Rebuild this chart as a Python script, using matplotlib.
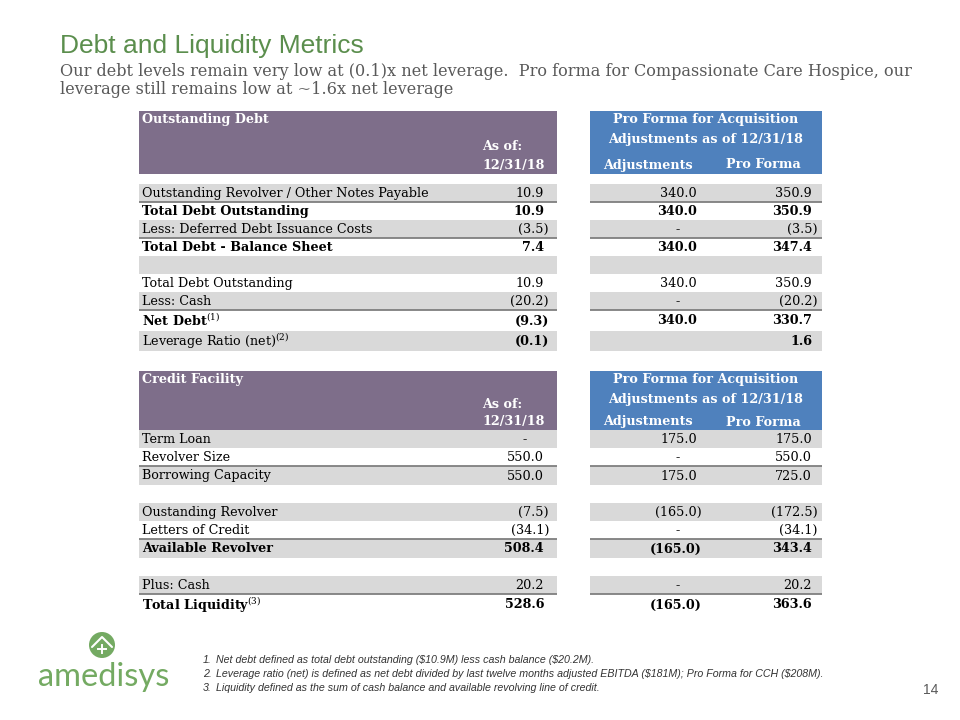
import matplotlib
matplotlib.use("Agg")
import matplotlib.pyplot as plt
from matplotlib.patches import Rectangle, Circle

plt.rcParams["mathtext.fontset"] = "dejavuserif"

# ---- data -----------------------------------------------------------------
debt_labels = [
    "Outstanding Revolver / Other Notes Payable",
    "Total Debt Outstanding",
    "Less: Deferred Debt Issuance Costs",
    "Total Debt - Balance Sheet",
    "",
    "Total Debt Outstanding",
    "Less: Cash",
    "Net Debt$^{(1)}$",
    "Leverage Ratio (net)$^{(2)}$",
]
debt_asof = [10.9, 10.9, -3.5, 7.4, None, 10.9, -20.2, -9.3, -0.1]
debt_adj = [340.0, 340.0, 0.0, 340.0, None, 340.0, 0.0, 340.0, None]
debt_pro = [350.9, 350.9, -3.5, 347.4, None, 350.9, -20.2, 330.7, 1.6]
debt_bold_labels = {1, 3, 7}
debt_bold_values = {1, 3, 7, 8}

credit_labels = [
    "Term Loan",
    "Revolver Size",
    "Borrowing Capacity",
    "",
    "Oustanding Revolver",
    "Letters of Credit",
    "Available Revolver",
    "",
    "Plus: Cash",
    "Total Liquidity$^{(3)}$",
]
credit_asof = [0.0, 550.0, 550.0, None, -7.5, -34.1, 508.4, None, 20.2, 528.6]
credit_adj = [175.0, 0.0, 175.0, None, -165.0, 0.0, -165.0, None, 0.0, -165.0]
credit_pro = [175.0, 550.0, 725.0, None, -172.5, -34.1, 343.4, None, 20.2, 363.6]
credit_bold = {6, 9}

footnotes = [
    "Net debt defined as total debt outstanding ($10.9M) less cash balance ($20.2M).",
    "Leverage ratio (net) is defined as net debt divided by last twelve months adjusted EBITDA ($181M); Pro Forma for CCH ($208M).",
    "Liquidity defined as the sum of cash balance and available revolving line of credit.",
]

# ---- style ----------------------------------------------------------------
PURPLE = "#7E6E8A"
BLUE = "#4F81BD"
GRAY = "#D9D9D9"
LINE = "#7F7F7F"
GREEN = "#5B8E4D"
LOGO = "#74AA62"
SERIF = "DejaVu Serif"
FS = 9.2

fig = plt.figure(figsize=(9.6, 7.2), dpi=100)
ax = fig.add_axes([0, 0, 1, 1])
ax.set_xlim(0, 960)
ax.set_ylim(720, 0)
ax.axis("off")

# title block
ax.text(60, 46, "Debt and Liquidity Metrics", fontsize=19, color=GREEN,
        family="Liberation Sans", va="center")
ax.text(60, 71, "Our debt levels remain very low at (0.1)x net leverage.  Pro forma for "
        "Compassionate Care Hospice, our", fontsize=11.6, color="#595959",
        family=SERIF, va="center")
ax.text(60, 90, "leverage still remains low at ~1.6x net leverage", fontsize=11.6,
        color="#595959", family=SERIF, va="center")

L0, L1 = 139, 557
R0, R1 = 590, 822
COLS = [  # (digit right edge, paren right edge, dash centre)
    (544, 549, 525),
    (697, 702, 678),
    (812, 818, 800),
]


def put_value(v, col, y, bold):
    if v is None:
        return
    right, paren, dash = COLS[col]
    w = "bold" if bold else "normal"
    if v == 0:
        ax.text(dash, y, "-", ha="center", va="center", fontsize=FS,
                family=SERIF, fontweight=w)
    elif v < 0:
        ax.text(paren, y, f"({-v:.1f})", ha="right", va="center", fontsize=FS,
                family=SERIF, fontweight=w)
    else:
        ax.text(right, y, f"{v:.1f}", ha="right", va="center", fontsize=FS,
                family=SERIF, fontweight=w)


def header(top, bottom, title, text_ys):
    ax.add_patch(Rectangle((L0, top), L1 - L0, bottom - top, color=PURPLE, lw=0))
    ax.add_patch(Rectangle((R0, top), R1 - R0, bottom - top, color=BLUE, lw=0))
    kw = dict(color="white", fontsize=FS, family=SERIF, fontweight="bold", va="center")
    ax.text(142, text_ys[0], title, **kw)
    ax.text(482, text_ys[3], "As of:", **kw)
    ax.text(482, text_ys[2], "12/31/18", **kw)
    ax.text(706, text_ys[0], "Pro Forma for Acquisition", ha="center", **kw)
    ax.text(706, text_ys[1], "Adjustments as of 12/31/18", ha="center", **kw)
    ax.text(648, text_ys[2], "Adjustments", ha="center", **kw)
    ax.text(763, text_ys[2], "Pro Forma", ha="center", **kw)


def body(start, heights, labels, asof, adj, pro, gray_rows, lines_after,
         bold_labels, bold_values):
    y = start
    for i, h in enumerate(heights):
        if i in gray_rows:
            ax.add_patch(Rectangle((L0, y), L1 - L0, h, color=GRAY, lw=0))
            ax.add_patch(Rectangle((R0, y), R1 - R0, h, color=GRAY, lw=0))
        yc = y + h / 2 + 0.5
        if labels[i]:
            ax.text(142, yc, labels[i], va="center", fontsize=FS, family=SERIF,
                    fontweight="bold" if i in bold_labels else "normal")
        b = i in bold_values
        put_value(asof[i], 0, yc, b)
        put_value(adj[i], 1, yc, b)
        put_value(pro[i], 2, yc, b)
        if i in lines_after:
            for x0, x1 in ((L0, L1), (R0, R1)):
                ax.plot([x0, x1], [y + h, y + h], color=LINE, lw=1.3,
                        solid_capstyle="butt")
        y += h


header(111, 174, "Outstanding Debt", [120, 139, 165, 147])
body(184, [18, 18, 18, 18, 18, 18, 18, 21, 20], debt_labels, debt_asof,
     debt_adj, debt_pro, {0, 2, 4, 6, 8}, {0, 2, 6}, debt_bold_labels,
     debt_bold_values)

header(371, 430, "Credit Facility", [380, 399, 422, 404])
body(430, [18, 18, 19, 18, 18, 18, 19, 18, 18, 21], credit_labels, credit_asof,
     credit_adj, credit_pro, {0, 2, 4, 6, 8}, {1, 5, 8}, credit_bold,
     credit_bold)

# footnotes
for k, note in enumerate(footnotes):
    yy = 660 + 14 * k
    kw = dict(fontsize=7.7, color="#333333", style="italic", va="center",
              family=["Liberation Sans Narrow", "Liberation Sans"],
              parse_math=False)
    ax.text(203, yy, f"{k + 1}.", **kw)
    ax.text(216, yy, note, **kw)

ax.text(938, 690, "14", fontsize=10, color="#595959", family="Liberation Sans",
        ha="right", va="center")

# logo
ax.add_patch(Circle((102, 645), 13, color=LOGO, lw=0))
ax.plot([92, 102, 112], [647, 637, 647], color="white", lw=1.5,
        solid_capstyle="round")
ax.plot([102, 102], [645, 653], color="white", lw=1.4)
ax.plot([98, 106], [649, 649], color="white", lw=1.4)
ax.text(104, 677, "amedisys", fontsize=23.5, color=LOGO, family="Lato",
        ha="center", va="center")

fig.savefig("out.png", dpi=100)
